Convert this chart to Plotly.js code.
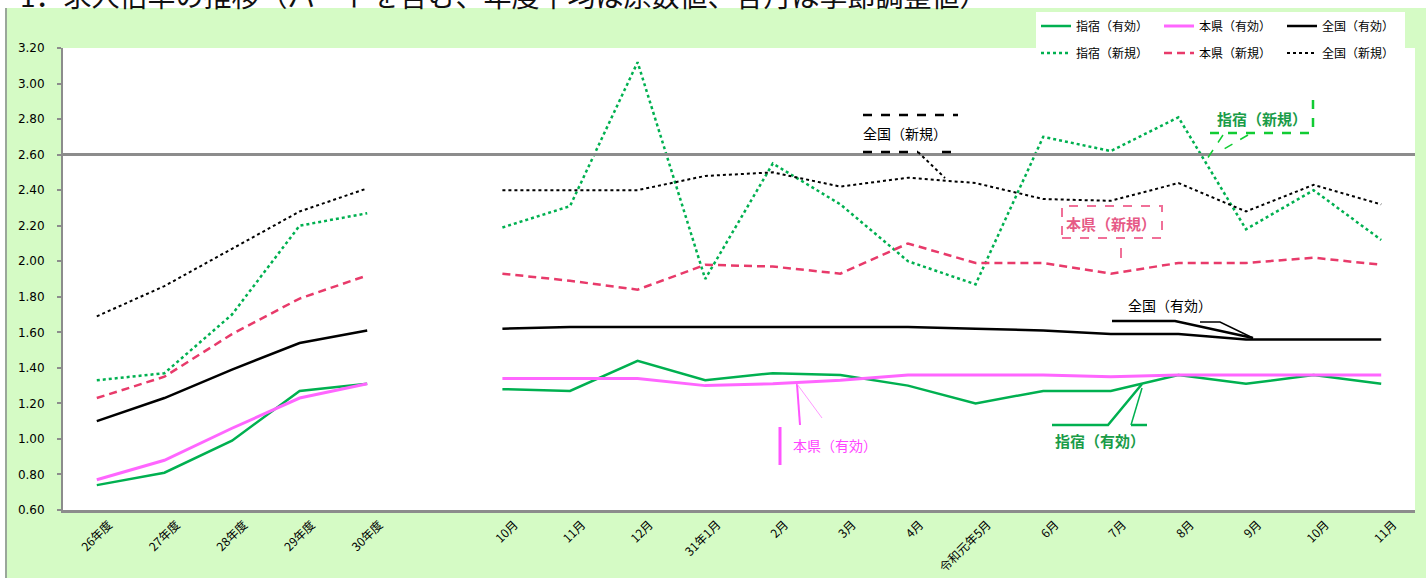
<!DOCTYPE html>
<html><head><meta charset="utf-8">
<script src="https://cdn.plot.ly/plotly-3.0.1.min.js"></script>
<style>html,body{margin:0;padding:0;background:#fff;} #chart{width:1426px;height:578px;}</style>
</head><body><div id="chart"></div>
<script>
// ---- data ----
const labels = ["26年度","27年度","28年度","29年度","30年度","","10月","11月","12月","31年1月","2月","3月","4月","令和元年5月","6月","7月","8月","9月","10月","11月"];
const ibusukiYuko   = [0.74,0.81,0.99,1.27,1.31,null,1.28,1.27,1.44,1.33,1.37,1.36,1.30,1.20,1.27,1.27,1.36,1.31,1.36,1.31];
const kenYuko       = [0.77,0.88,1.06,1.23,1.31,null,1.34,1.34,1.34,1.30,1.31,1.33,1.36,1.36,1.36,1.35,1.36,1.36,1.36,1.36];
const zenkokuYuko   = [1.10,1.23,1.39,1.54,1.61,null,1.62,1.63,1.63,1.63,1.63,1.63,1.63,1.62,1.61,1.59,1.59,1.56,1.56,1.56];
const ibusukiShinki = [1.33,1.37,1.70,2.20,2.27,null,2.19,2.31,3.12,1.90,2.55,2.32,2.00,1.87,2.70,2.62,2.81,2.18,2.40,2.12];
const kenShinki     = [1.23,1.35,1.59,1.79,1.92,null,1.93,1.89,1.84,1.98,1.97,1.93,2.10,1.99,1.99,1.93,1.99,1.99,2.02,1.98];
const zenkokuShinki = [1.69,1.86,2.07,2.28,2.41,null,2.40,2.40,2.40,2.48,2.50,2.42,2.47,2.44,2.35,2.34,2.44,2.28,2.43,2.32];
const titleText = "1．求人倍率の推移（パートを含む、年度平均は原数値、各月は季節調整値）";

// ---- layout geometry ----
const W=1426,H=578,L=63,R=11,T=48,B=68;
const PW=W-L-R, PH=H-T-B, N=labels.length;
const YMIN=0.6, YMAX=3.2;
const xs = labels.map((_,i)=>i);
const X = px => (px-L)/PW*N - 0.5;
const Y = py => YMIN + (H-B-py)/PH*(YMAX-YMIN);
const PX = px => (px-L)/PW;
const PY = py => (H-B-py)/PH;

const JP = "Noto Sans CJK JP";
const GREEN = "#00b050", MAG = "#ff66ff", RED = "#e83a6a";

function tr(name,y,color,dash,width,legend){
  return {type:'scatter',mode:'lines',x:xs,y:y,name:name,legend:legend,connectgaps:false,
    line:{color:color,dash:dash,width:width},hoverinfo:'skip'};
}
const data = [
  tr("指宿（有効）",ibusukiYuko,GREEN,'solid',2.5,'legend'),
  tr("本県（有効）",kenYuko,MAG,'solid',3,'legend'),
  tr("全国（有効）",zenkokuYuko,'#000','solid',2.5,'legend'),
  tr("指宿（新規）",ibusukiShinki,GREEN,'dot',2.5,'legend2'),
  tr("本県（新規）",kenShinki,RED,'8px,5px',2.5,'legend2'),
  tr("全国（新規）",zenkokuShinki,'#000','dot',2,'legend2')
];

function ln(x0,y0,x1,y1,color,width,dash){
  return {type:'line',xref:'x',yref:'y',x0:X(x0),y0:Y(y0),x1:X(x1),y1:Y(y1),line:{color:color,width:width,dash:dash||'solid'}};
}
function path(pts,color,width,dash){
  const d = pts.map((p,i)=>(i?'L':'M')+X(p[0])+','+Y(p[1])).join(' ');
  return {type:'path',xref:'x',yref:'y',path:d,line:{color:color,width:width,dash:dash||'solid'}};
}
const shapes = [
  // white strips outside the chart area
  {type:'rect',xref:'paper',yref:'paper',x0:PX(0),x1:PX(W),y0:PY(8),y1:PY(-2),fillcolor:'#fff',line:{width:0},layer:'below'},
  {type:'rect',xref:'paper',yref:'paper',x0:PX(-2),x1:PX(6),y0:PY(H+2),y1:PY(-2),fillcolor:'#fff',line:{width:0},layer:'below'},
  {type:'line',xref:'paper',yref:'paper',x0:PX(6),x1:PX(6),y0:PY(8),y1:PY(H+2),line:{color:'#9aa79a',width:2}},
  // 2.60 reference line
  {type:'line',xref:'paper',yref:'y',x0:0,x1:1,y0:2.6,y1:2.6,line:{color:'#8c8c8c',width:3}},
  // 全国（新規）
  ln(863,115,958,115,'#000',2.5,'dash'),
  ln(863,152,918,152,'#000',2.5,'dash'),
  ln(942,152,958,152,'#000',2.5,'dash'),
  ln(918,152,945,178,'#000',2,'dot'),
  // 指宿（新規）
  ln(1313,100,1313,133,'#11cc33',2.5,'dash'),
  ln(1210,133,1313,133,'#11cc33',2.5,'dash'),
  ln(1223,135,1205,162,'#11cc33',1.5,'dash'),
  ln(1248,135,1217,153,'#11cc33',1.5,'dash'),
  // 本県（新規）
  {type:'rect',xref:'x',yref:'y',x0:X(1062),x1:X(1162),y0:Y(238),y1:Y(206),line:{color:'#f07098',width:2,dash:'dash'}},
  ln(1121,248,1121,258,'#f07098',2,'solid'),
  // 全国（有効）
  path([[1112,321],[1175,321],[1253,338]],'#000',2.5),
  path([[1200,322],[1220,322],[1253,338]],'#000',1.5),
  // 本県（有効）
  ln(780,427,780,465,'#ff55ff',3),
  ln(797,384,800,425,'#ff55ff',2),
  ln(797,384,822,418,'#ff99ff',1),
  // 指宿（有効）
  path([[1052,425],[1108,425],[1142,384]],GREEN,2.5),
  path([[1131,425],[1147,425]],GREEN,2.5),
  ln(1131,425,1142,388,GREEN,1.5)
];

function ann(px,py,text,color,size,bold){
  return {xref:'x',yref:'y',x:X(px),y:Y(py),text:text,showarrow:false,xanchor:'center',yanchor:'middle',
    font:{family:JP,size:size,color:color,weight:bold?'bold':'normal'}};
}
const annotations = [
  {xref:'paper',yref:'paper',x:PX(18),y:PY(-5),xanchor:'left',yanchor:'middle',showarrow:false,text:titleText,
   font:{family:JP,size:28,color:'#111'}},
  ann(905,133,"全国（新規）",'#000',14,false),
  ann(1262,118,"指宿（新規）",'#1a9c48',15,true),
  ann(1111,223,"本県（新規）",'#e65a86',15,true),
  ann(1170,305,"全国（有効）",'#000',14,false),
  ann(835,445,"本県（有効）",'#ff44ff',14,false),
  ann(1100,440,"指宿（有効）",'#1a9c48',15,true)
];

const legendBase = {orientation:'h',xanchor:'left',yanchor:'middle',bgcolor:'#fff',borderwidth:0,
  entrywidth:78,entrywidthmode:'pixels',itemwidth:30,font:{family:JP,size:12,color:'#000'}};

const layout = {
  width:W,height:H,
  margin:{l:L,r:R,t:T,b:B,pad:0},
  paper_bgcolor:'#d5fbc5',plot_bgcolor:'#fff',
  showlegend:true,
  legend:Object.assign({},legendBase,{x:PX(1036),y:PY(26)}),
  legend2:Object.assign({},legendBase,{x:PX(1036),y:PY(53)}),
  xaxis:{range:[-0.5,N-0.5],tickvals:xs,ticktext:labels,tickangle:-45,showgrid:false,zeroline:false,
    showline:true,linecolor:'#8c8c8c',linewidth:3,ticks:'',ticklabelshift:12,
    tickfont:{family:JP,size:12,color:'#000'},fixedrange:true},
  yaxis:{range:[YMIN,YMAX],tick0:0.6,dtick:0.2,tickformat:'.2f',showgrid:false,zeroline:false,
    showline:true,linecolor:'#8c8c8c',linewidth:2,ticks:'outside',ticklen:4,tickcolor:'#8c8c8c',tickwidth:2,
    ticklabelstandoff:10,tickfont:{family:'DejaVu Sans',size:12,color:'#000'},fixedrange:true},
  shapes:shapes,
  annotations:annotations
};
Plotly.newPlot('chart',data,layout,{displayModeBar:false,staticPlot:true});
</script>
</body></html>
